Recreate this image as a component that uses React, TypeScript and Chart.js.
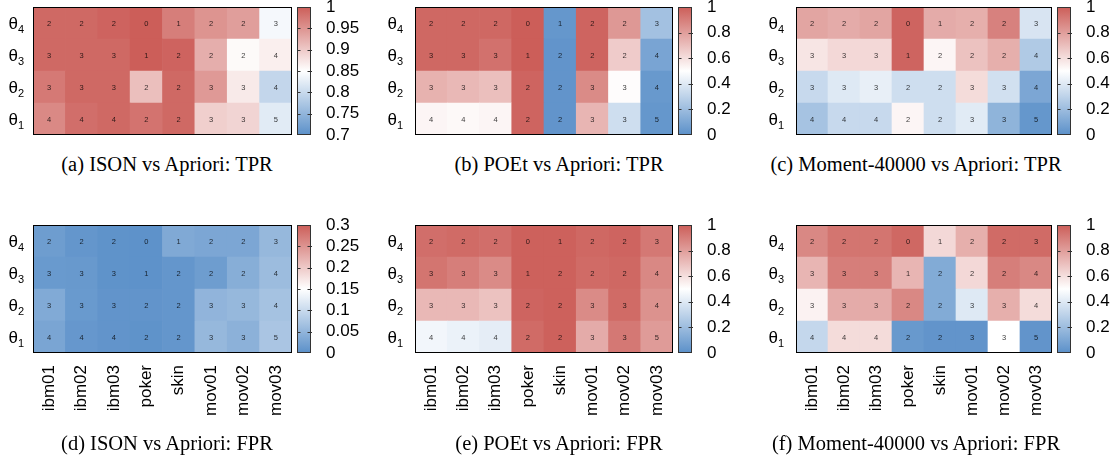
import React, { useEffect, useRef } from "react";
import { Chart, registerables } from "chart.js";

Chart.register(...registerables);

const SANS = "'Liberation Sans', Arial, Helvetica, sans-serif";
const SERIF = "'Liberation Serif', 'Times New Roman', serif";

// x categories (datasets)
const categories = ["ibm01", "ibm02", "ibm03", "poker", "skin", "mov01", "mov02", "mov03"];
// theta subscripts, bottom row first
const thresholds = ["1", "2", "3", "4"];
// numbers printed in the cells, rows θ1..θ4
const itemCounts = [
  [4, 4, 4, 2, 2, 3, 3, 5],
  [3, 3, 3, 2, 2, 3, 3, 4],
  [3, 3, 3, 1, 2, 2, 2, 4],
  [2, 2, 2, 0, 1, 2, 2, 3],
];

// values, rows θ1..θ4
const isonTpr = [
  [0.96, 0.985, 0.99, 0.98, 0.99, 0.895, 0.89, 0.823],
  [0.975, 0.99, 0.99, 0.91, 0.99, 0.945, 0.87, 0.795],
  [0.99, 0.99, 0.99, 1.0, 0.995, 0.925, 0.855, 0.865],
  [0.99, 0.99, 0.995, 1.0, 0.97, 0.95, 0.94, 0.841],
];
const poetTpr = [
  [0.53, 0.52, 0.53, 0.98, 0.02, 0.73, 0.35, 0.03],
  [0.74, 0.72, 0.7, 0.98, 0.02, 0.86, 0.51, 0.04],
  [0.97, 0.97, 0.94, 1.0, 0.02, 0.98, 0.66, 0.09],
  [0.97, 0.97, 0.97, 1.0, 0.03, 0.98, 0.82, 0.22],
];
const momentTpr = [
  [0.23, 0.33, 0.33, 0.53, 0.35, 0.41, 0.16, 0.03],
  [0.33, 0.4, 0.43, 0.35, 0.35, 0.61, 0.36, 0.1],
  [0.58, 0.62, 0.62, 0.98, 0.53, 0.69, 0.75, 0.26],
  [0.78, 0.76, 0.78, 0.98, 0.76, 0.75, 0.89, 0.38],
];
const isonFpr = [
  [0.028, 0.01, 0.006, 0.004, 0.008, 0.054, 0.045, 0.072],
  [0.035, 0.013, 0.006, 0.006, 0.008, 0.049, 0.054, 0.068],
  [0.013, 0.012, 0.004, 0.003, 0.008, 0.017, 0.04, 0.059],
  [0.017, 0.008, 0.004, 0.003, 0.034, 0.03, 0.03, 0.054],
];
const poetFpr = [
  [0.46, 0.44, 0.42, 0.96, 0.99, 0.76, 0.92, 0.81],
  [0.72, 0.72, 0.69, 0.98, 0.99, 0.86, 0.96, 0.84],
  [0.93, 0.9, 0.86, 0.99, 0.99, 0.96, 0.97, 0.87],
  [0.95, 0.96, 0.95, 0.99, 0.99, 0.97, 0.98, 0.92],
];
const momentFpr = [
  [0.32, 0.61, 0.61, 0.04, 0.02, 0.02, 0.5, 0.02],
  [0.54, 0.76, 0.76, 0.87, 0.12, 0.4, 0.75, 0.61],
  [0.73, 0.9, 0.9, 0.73, 0.12, 0.62, 0.9, 0.87],
  [0.87, 0.93, 0.93, 0.97, 0.62, 0.75, 0.96, 0.96],
];

const BLUE = [91, 144, 201];
const WHITE = [255, 255, 255];
const RED = [204, 94, 89];

function mix(a: number[], b: number[], t: number) {
  return a.map((v, i) => Math.round(v + (b[i] - v) * t));
}
function heatColor(v: number, min: number, max: number) {
  let t = (v - min) / (max - min);
  t = Math.max(0, Math.min(1, t));
  const c = t < 0.5 ? mix(BLUE, WHITE, t / 0.5) : mix(WHITE, RED, (t - 0.5) / 0.5);
  return `rgb(${c[0]},${c[1]},${c[2]})`;
}

const colLeft = [33, 415, 796];
const colRight = [292, 673, 1052];
const labelGap = [9, 12, 12];
const captionCenter = [167, 559, 916];

const panels = [
  { values: isonTpr, min: 0.7, max: 1, step: 0.05, caption: "(a) ISON vs Apriori: TPR", col: 0, row: 0 },
  { values: poetTpr, min: 0, max: 1, step: 0.2, caption: "(b) POEt vs Apriori: TPR", col: 1, row: 0 },
  { values: momentTpr, min: 0, max: 1, step: 0.2, caption: "(c) Moment-40000 vs Apriori: TPR", col: 2, row: 0 },
  { values: isonFpr, min: 0, max: 0.3, step: 0.05, caption: "(d) ISON vs Apriori: FPR", col: 0, row: 1 },
  { values: poetFpr, min: 0, max: 1, step: 0.2, caption: "(e) POEt vs Apriori: FPR", col: 1, row: 1 },
  { values: momentFpr, min: 0, max: 1, step: 0.2, caption: "(f) Moment-40000 vs Apriori: FPR", col: 2, row: 1 },
];

const ROW_TOP = [7, 225];
const CHART_H = 128;
const PAD_TOP = 12;
const LEFT_PAD = 40;
const RIGHT_W = 80;
const X_AXIS_H = 80;

function makePlugin(gap: number) {
  return {
    id: "heatDecor",
    afterDatasetsDraw(chart: any) {
      const ctx = chart.ctx;
      const ca = chart.chartArea;
      ctx.save();
      // cell numbers
      ctx.font = `7.5px ${SANS}`;
      ctx.textAlign = "center";
      ctx.textBaseline = "middle";
      ctx.fillStyle = "rgba(0,0,0,0.78)";
      chart.data.datasets.forEach((_ds: any, i: number) => {
        const meta = chart.getDatasetMeta(i);
        meta.data.forEach((el: any, j: number) => {
          const { x, y, base } = el.getProps(["x", "y", "base"], true);
          ctx.fillText(String(itemCounts[i][j]), x, (y + base) / 2 + 0.5);
        });
      });
      // frame
      ctx.strokeStyle = "#000";
      ctx.lineWidth = 1;
      ctx.strokeRect(ca.left + 0.5, ca.top + 0.5, ca.right - ca.left - 1, ca.bottom - ca.top - 1);
      // y labels θ with subscript
      const ys = chart.scales.y;
      const xr = ca.left - gap;
      thresholds.forEach((t, i) => {
        const py = ys.getPixelForValue(i + 0.5);
        ctx.textAlign = "left";
        ctx.textBaseline = "alphabetic";
        ctx.fillStyle = "#000";
        ctx.font = `17px ${SANS}`;
        const wt = ctx.measureText("θ").width;
        ctx.font = `11px ${SANS}`;
        const wd = ctx.measureText(t).width;
        ctx.font = `17px ${SANS}`;
        ctx.fillText("θ", xr - wt - wd, py + 5.5);
        ctx.font = `11px ${SANS}`;
        ctx.fillText(t, xr - wd, py + 9.5);
      });
      // colorbar
      const cb = chart.scales.cb;
      const x0 = ca.right + 5;
      const w = 14;
      const yTop = cb.getPixelForValue(cb.max);
      const yBot = cb.getPixelForValue(cb.min);
      const g = ctx.createLinearGradient(0, yBot, 0, yTop);
      g.addColorStop(0, `rgb(${BLUE.join(",")})`);
      g.addColorStop(0.5, "rgb(255,255,255)");
      g.addColorStop(1, `rgb(${RED.join(",")})`);
      ctx.fillStyle = g;
      ctx.fillRect(x0, yTop, w, yBot - yTop);
      ctx.strokeStyle = "#333";
      ctx.strokeRect(x0 + 0.5, yTop + 0.5, w - 1, yBot - yTop - 1);
      ctx.beginPath();
      cb.ticks.forEach((tk: any) => {
        if (tk.value <= cb.min + 1e-9 || tk.value >= cb.max - 1e-9) return;
        const py = Math.round(cb.getPixelForValue(tk.value)) + 0.5;
        ctx.moveTo(x0, py);
        ctx.lineTo(x0 + 3.5, py);
        ctx.moveTo(x0 + w - 3.5, py);
        ctx.lineTo(x0 + w + 1, py);
      });
      ctx.stroke();
      ctx.restore();
    },
  };
}

function Panel({ p }: { p: any }) {
  const ref = useRef<HTMLCanvasElement>(null);
  const chartW = colRight[p.col] - colLeft[p.col];
  const canvasLeft = colLeft[p.col] - LEFT_PAD;
  const canvasTop = ROW_TOP[p.row] - PAD_TOP;
  const canvasW = LEFT_PAD + chartW + RIGHT_W;
  const canvasH = p.row === 0 ? PAD_TOP + CHART_H + 16 : PAD_TOP + CHART_H + X_AXIS_H;

  useEffect(() => {
    const xScale: any = {
      stacked: true,
      display: p.row === 1,
      grid: { display: false, drawTicks: false },
      border: { display: false },
      ticks: {
        autoSkip: false,
        maxRotation: 90,
        minRotation: 90,
        padding: 12,
        color: "#000",
        font: { family: SANS, size: 17 },
      },
    };
    if (p.row === 1) {
      xScale.afterFit = (s: any) => {
        s.height = X_AXIS_H;
        s.paddingLeft = 0;
        s.paddingRight = 0;
      };
    }
    const chart = new Chart(ref.current as HTMLCanvasElement, {
      type: "bar",
      data: {
        labels: categories,
        datasets: p.values.map((row: number[], i: number) => ({
          label: "θ" + thresholds[i],
          data: row.map(() => 1),
          backgroundColor: row.map((v) => heatColor(v, p.min, p.max)),
          borderWidth: 0,
          barPercentage: 1,
          categoryPercentage: 1,
        })),
      },
      options: {
        responsive: false,
        animation: false,
        devicePixelRatio: 1,
        layout: { padding: { left: LEFT_PAD, top: PAD_TOP, right: 0, bottom: p.row === 0 ? 16 : 0 } },
        plugins: { legend: { display: false }, tooltip: { enabled: false }, title: { display: false } },
        scales: {
          x: xScale,
          y: { stacked: true, display: false, min: 0, max: 4 },
          cb: {
            type: "linear",
            position: "right",
            min: p.min,
            max: p.max,
            grid: { display: false, drawTicks: false },
            border: { display: false },
            ticks: {
              stepSize: p.step,
              autoSkip: false,
              padding: 34,
              color: "#000",
              font: { family: SANS, size: 17 },
              callback: (v: any) => String(parseFloat(Number(v).toFixed(4))),
            },
            afterFit: (s: any) => {
              s.width = RIGHT_W;
              s.paddingTop = 0;
              s.paddingBottom = 0;
            },
          },
        },
      } as any,
      plugins: [makePlugin(labelGap[p.col])],
    });
    return () => chart.destroy();
  }, []);

  return (
    <canvas
      ref={ref}
      width={canvasW}
      height={canvasH}
      style={{ position: "absolute", left: canvasLeft, top: canvasTop, width: canvasW, height: canvasH }}
    />
  );
}

export default function App() {
  return (
    <div style={{ position: "fixed", left: 0, top: 0, width: 1118, height: 459, background: "#fff", overflow: "hidden" }}>
      {panels.map((p, i) => (
        <Panel key={i} p={p} />
      ))}
      {panels.map((p, i) => (
        <div
          key={"c" + i}
          style={{
            position: "absolute",
            left: captionCenter[p.col] - 200,
            width: 400,
            top: (p.row === 0 ? 164 : 443) - 12,
            height: 24,
            lineHeight: "24px",
            textAlign: "center",
            fontFamily: SERIF,
            fontSize: 20.5,
            color: "#000",
            whiteSpace: "nowrap",
          }}
        >
          {p.caption}
        </div>
      ))}
    </div>
  );
}
